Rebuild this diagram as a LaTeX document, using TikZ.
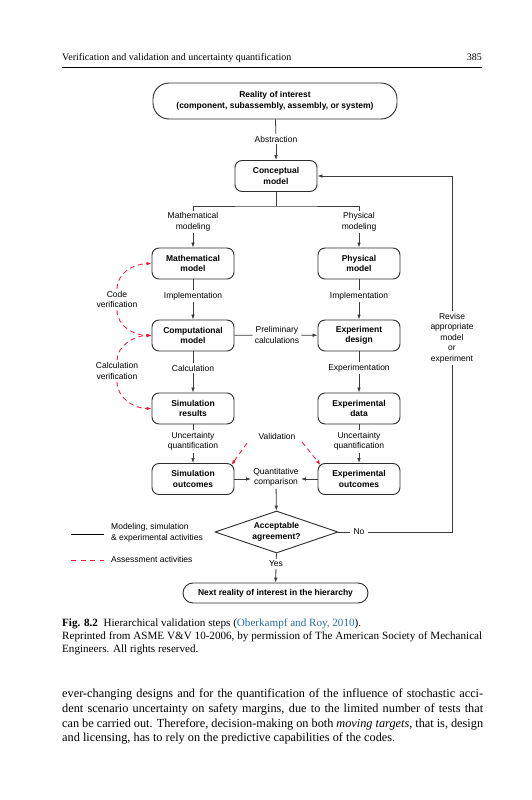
\documentclass[tikz,border=0pt]{standalone}
\usepackage{fontspec}
\setmainfont{Liberation Serif}
\newfontfamily\hv{Liberation Sans}
\usetikzlibrary{shapes.geometric,arrows.meta}
\definecolor{boxc}{RGB}{45,45,45}
\definecolor{lnc}{RGB}{60,60,60}
\definecolor{redd}{RGB}{232,24,60}
\definecolor{linkc}{RGB}{40,110,170}
\newcommand{\dfont}{\hv\fontsize{8.5}{10.5}\selectfont}
\newcommand{\bodyfnt}{\fontsize{12.3}{14.7}\selectfont}
\newcommand{\capfnt}{\fontsize{11.1}{13}\selectfont}
\newcommand{\hdrfnt}{\fontsize{10}{12}\selectfont}
\tikzset{
  stepbox/.style={draw=boxc, line width=0.9pt, rounded corners=7pt, minimum width=82pt, minimum height=31pt, align=center, font=\dfont\bfseries, inner sep=1pt},
  lbl/.style={align=center, font=\dfont, inner sep=2pt},
  ln/.style={draw=lnc, line width=0.8pt},
  arr/.style={ln, -{Latex[length=5pt,width=3.6pt]}},
  rarr/.style={draw=redd, line width=0.8pt, dash pattern=on 5pt off 3.5pt, -{Latex[length=5pt,width=3.6pt]}},
  txtline/.style={anchor=base west, inner sep=0pt}
}
\begin{document}
\begin{tikzpicture}[x=1pt,y=-1pt]
\fill[white] (0,0) rectangle (531,800);
\useasboundingbox (0,0) rectangle (531,800);
% header
\node[txtline, font=\hdrfnt] (hdr) at (62,60) {Verification and validation and uncertainty quantification};
\node[anchor=base east, inner sep=0pt, font=\hdrfnt] (pg) at (482,60) {385};
\coordinate (ra) at (62,67); \coordinate (rb0) at (482,67);
\draw[line width=0.5pt] (ra) -- (rb0);
% boxes
\node[stepbox, minimum width=244pt, minimum height=36pt, rounded corners=16pt] (real) at (275,101) {Reality of interest\\(component, subassembly, assembly, or system)};
\node[stepbox] (concept) at (276,176) {Conceptual\\model};
\node[stepbox] (math) at (193,263.5) {Mathematical\\model};
\node[stepbox] (phys) at (359,263.5) {Physical\\model};
\node[stepbox] (comp) at (193,335.5) {Computational\\model};
\node[stepbox] (expdes) at (359,335.5) {Experiment\\design};
\node[stepbox] (simres) at (193,408.5) {Simulation\\results};
\node[stepbox] (expdata) at (359,408.5) {Experimental\\data};
\node[stepbox] (simout) at (193,479) {Simulation\\outcomes};
\node[stepbox] (expout) at (359,479) {Experimental\\outcomes};
\node[diamond, draw=boxc, line width=0.9pt, minimum width=123pt, minimum height=42pt, inner sep=0pt, aspect=2.9, align=center, font=\dfont\bfseries] (dia) at (276.5,532) {Acceptable\\agreement?};
\node[stepbox, minimum width=185pt, minimum height=20pt, rounded corners=10pt] (next) at (275.5,593) {Next reality of interest in the hierarchy};
% labels
\node[lbl] (abstr) at (276,139) {Abstraction};
\node[lbl] (mmod) at (193,222) {Mathematical\\modeling};
\node[lbl] (pmod) at (359,222) {Physical\\modeling};
\node[lbl] (impl1) at (193,296) {Implementation};
\node[lbl] (impl2) at (359,296) {Implementation};
\node[lbl] (prelim) at (277,335) {Preliminary\\calculations};
\node[lbl] (calc) at (193,368) {Calculation};
\node[lbl] (expmt) at (359,368) {Experimentation};
\node[lbl] (uq1) at (193,441.5) {Uncertainty\\quantification};
\node[lbl] (uq2) at (359,441.5) {Uncertainty\\quantification};
\node[lbl] (valid) at (277,436) {Validation};
\node[lbl] (quant) at (276,477.5) {Quantitative\\comparison};
\node[lbl, inner sep=3.5pt] (no) at (359,532) {No};
\node[lbl] (yes) at (276,564) {Yes};
\node[lbl] (revise) at (452,338) {Revise\\appropriate\\model\\or\\experiment};
\node[lbl] (codever) at (117,299.5) {Code\\verification};
\node[lbl] (calcver) at (117,371) {Calculation\\verification};
% connectors
\draw[ln] (real) -- (abstr);
\draw[arr] (abstr) -- (concept);
\coordinate (split) at (276,206);
\draw[ln] (concept) -- (split);
\draw[ln] (mmod.north) |- (split) -| (pmod.north);
\draw[arr] (mmod) -- (math);
\draw[arr] (pmod) -- (phys);
\draw[ln] (math) -- (impl1);
\draw[arr] (impl1) -- (comp);
\draw[ln] (phys) -- (impl2);
\draw[arr] (impl2) -- (expdes);
\draw[ln] (comp) -- (prelim);
\draw[arr] (prelim) -- (expdes);
\draw[ln] (comp) -- (calc);
\draw[arr] (calc) -- (simres);
\draw[ln] (expdes) -- (expmt);
\draw[arr] (expmt) -- (expdata);
\draw[ln] (simres) -- (uq1);
\draw[arr] (uq1) -- (simout);
\draw[ln] (expdata) -- (uq2);
\draw[arr] (uq2) -- (expout);
\draw[arr] (simout.east) -- (quant.west |- simout.east);
\draw[arr] (expout.west) -- (quant.east |- expout.west);
\draw[arr] (quant) -- (dia);
\draw[ln] (dia.east) -- (no);
\coordinate (rbot) at (452,532);
\coordinate (rtop) at (452,176);
\draw[ln] (no) -- (rbot) -- (revise);
\draw[arr] (revise) -- (rtop) -- (concept);
\draw[ln] (dia.south) -- (yes);
\draw[arr] (yes) -- (next);
% assessment arrows
\draw[rarr] (codever.north) .. controls (117,274) and (132,264) .. (math.west);
\draw[rarr] (codever.south) .. controls (117,326) and (134,335.5) .. (comp.west);
\draw[rarr] (calcver.north) .. controls (117,346) and (134,335.5) .. (comp.west);
\draw[rarr] (calcver.south) .. controls (117,398) and (134,408.5) .. (simres.west);
\coordinate (v1) at (247,443);
\coordinate (v2) at (302,442);
\draw[rarr] (v1) -- ([shift={(-3,2)}]simout.north east);
\draw[rarr] (v2) -- ([shift={(3,2)}]expout.north west);
% legend
\coordinate (l1a) at (71,534); \coordinate (l1b) at (104,534);
\coordinate (l2a) at (71,560); \coordinate (l2b) at (104,560);
\draw[line width=0.7pt] (l1a) -- (l1b);
\draw[draw=redd, line width=0.8pt, dash pattern=on 5pt off 4.5pt] (l2a) -- (l2b);
\node[lbl, anchor=west, align=left] (leg1) at (109,533) {Modeling, simulation\\\& experimental activities};
\node[lbl, anchor=west] (leg2) at (109,559) {Assessment activities};
% caption
\node[txtline, font=\capfnt] (cap1) at (62,626) {\textbf{Fig. 8.2}\enspace Hierarchical validation steps (\textcolor{linkc}{Oberkampf and Roy, 2010}).};
\node[txtline, font=\capfnt] (cap2) at (62,639) {\makebox[420pt][s]{Reprinted from ASME V\&V 10-2006, by permission of The American Society of Mechanical}};
\node[txtline, font=\capfnt] (cap3) at (62,652) {Engineers. All rights reserved.};
% body
\node[txtline, font=\bodyfnt] (b1) at (62,697) {\makebox[421pt][s]{ever-changing designs and for the quantification of the influence of stochastic acci-}};
\node[txtline, font=\bodyfnt] (b2) at (62,712) {\makebox[421pt][s]{dent scenario uncertainty on safety margins, due to the limited number of tests that}};
\node[txtline, font=\bodyfnt] (b3) at (62,727) {\makebox[421pt][s]{can be carried out. Therefore, decision-making on both \emph{moving targets}, that is, design}};
\node[txtline, font=\bodyfnt] (b4) at (62,741) {and licensing, has to rely on the predictive capabilities of the codes.};
\end{tikzpicture}
\end{document}
